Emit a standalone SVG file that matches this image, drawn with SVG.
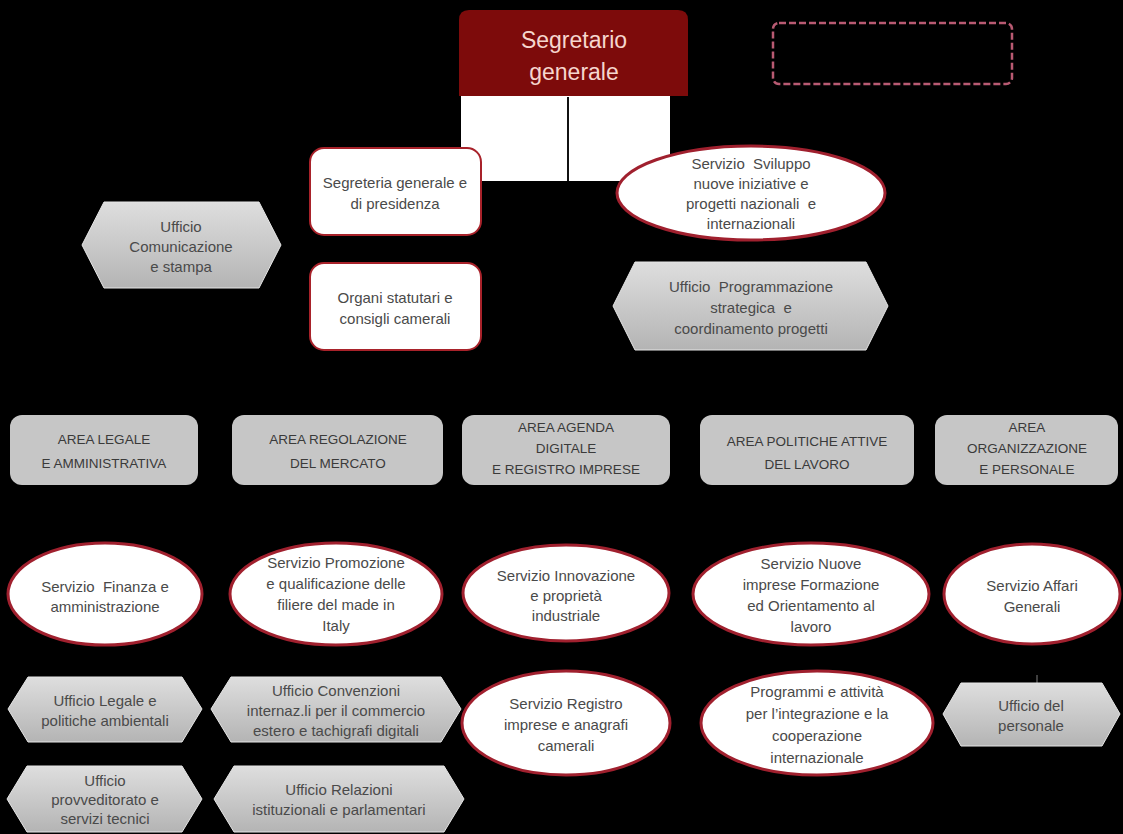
<svg xmlns="http://www.w3.org/2000/svg" width="1123" height="834" viewBox="0 0 1123 834">
<defs>
<linearGradient id="hexg" x1="0" y1="0" x2="0" y2="1">
<stop offset="0" stop-color="#dedede"/>
<stop offset="1" stop-color="#b4b4b4"/>
</linearGradient>
<style>
text{font-family:"Liberation Sans",Arial,sans-serif;text-anchor:middle;dominant-baseline:central;white-space:pre;}
.t{font-size:15px;fill:#4a4a4a;}
.a{font-size:13.5px;fill:#3a3a3a;}
.hex{fill:url(#hexg);stroke:#e6e6e6;stroke-width:1;}
.ell{fill:#ffffff;stroke:#a0202e;stroke-width:3;}
.box{fill:#ffffff;stroke:#a8222a;stroke-width:2;}
.area{fill:#c6c6c6;}
.conn{stroke:#111;stroke-width:2;fill:none;}
</style>
</defs>
<rect x="0" y="0" width="1123" height="834" fill="#000"/>

<rect x="461" y="96" width="209" height="85" fill="#ffffff"/>

<g id="connectors">
<line class="conn" x1="568" y1="97" x2="568" y2="181"/>
<line x1="1037" y1="675" x2="1037" y2="684" stroke="#555" stroke-width="1.5"/>
</g>

<g id="segretario">
<path d="M459,96 L459,20 Q459,10 469,10 L678,10 Q688,10 688,20 L688,96 Z" fill="#7d0b0b"/>
<text x="574" y="40" style="font-size:23px;fill:#f6d6ce">Segretario</text>
<text x="574" y="72" style="font-size:23px;fill:#f6d6ce">generale</text>
</g>

<g id="dashed-box">
<rect x="773" y="23" width="239" height="61" rx="6" fill="none" stroke="#b85a72" stroke-width="2.5" stroke-dasharray="7 3"/>
</g>

<g id="segreteria">
<rect class="box" x="310" y="148" width="171" height="87" rx="14"/>
<text class="t" x="395" y="182">Segreteria generale e</text>
<text class="t" x="395" y="203">di presidenza</text>
</g>

<g id="organi">
<rect class="box" x="310" y="263" width="171" height="87" rx="14"/>
<text class="t" x="395" y="297">Organi statutari e</text>
<text class="t" x="395" y="318">consigli camerali</text>
</g>

<g id="comunicazione">
<polygon class="hex" points="82,245 104,202 259,202 281,245 259,288 104,288"/>
<text class="t" x="181" y="226">Ufficio</text>
<text class="t" x="181" y="246">Comunicazione</text>
<text class="t" x="181" y="266">e stampa</text>
</g>

<g id="sviluppo">
<ellipse class="ell" cx="751" cy="193" rx="134" ry="47"/>
<text class="t" x="751" y="163">Servizio  Sviluppo</text>
<text class="t" x="751" y="183">nuove iniziative e</text>
<text class="t" x="751" y="203">progetti nazionali  e</text>
<text class="t" x="751" y="223">internazionali</text>
</g>

<g id="programmazione">
<polygon class="hex" points="613,306 635,262 866,262 888,306 866,350 635,350"/>
<text class="t" x="751" y="286">Ufficio  Programmazione</text>
<text class="t" x="751" y="307">strategica  e</text>
<text class="t" x="751" y="328">coordinamento progetti</text>
</g>

<g id="area-legale">
<rect class="area" x="10" y="415" width="188" height="70" rx="12"/>
<text class="a" x="104" y="439">AREA LEGALE</text>
<text class="a" x="104" y="463">E AMMINISTRATIVA</text>
</g>
<g id="area-regolazione">
<rect class="area" x="232" y="415" width="211" height="70" rx="12"/>
<text class="a" x="338" y="439">AREA REGOLAZIONE</text>
<text class="a" x="338" y="463">DEL MERCATO</text>
</g>
<g id="area-agenda">
<rect class="area" x="462" y="415" width="208" height="70" rx="12"/>
<text class="a" x="566" y="427">AREA AGENDA</text>
<text class="a" x="566" y="448">DIGITALE</text>
<text class="a" x="566" y="469">E REGISTRO IMPRESE</text>
</g>
<g id="area-politiche">
<rect class="area" x="700" y="415" width="214" height="70" rx="12"/>
<text class="a" x="807" y="441">AREA POLITICHE ATTIVE</text>
<text class="a" x="807" y="464">DEL LAVORO</text>
</g>
<g id="area-organizzazione">
<rect class="area" x="935" y="415" width="183" height="70" rx="12"/>
<text class="a" x="1027" y="427">AREA</text>
<text class="a" x="1027" y="448">ORGANIZZAZIONE</text>
<text class="a" x="1027" y="469">E PERSONALE</text>
</g>

<g id="finanza">
<ellipse class="ell" cx="105" cy="594" rx="97" ry="51"/>
<text class="t" x="105" y="586">Servizio  Finanza e</text>
<text class="t" x="105" y="606">amministrazione</text>
</g>
<g id="promozione">
<ellipse class="ell" cx="336" cy="594" rx="106" ry="51"/>
<text class="t" x="336" y="562">Servizio Promozione</text>
<text class="t" x="336" y="583">e qualificazione delle</text>
<text class="t" x="336" y="604">filiere del made in</text>
<text class="t" x="336" y="625">Italy</text>
</g>
<g id="innovazione">
<ellipse class="ell" cx="566" cy="593" rx="103" ry="48"/>
<text class="t" x="566" y="575">Servizio Innovazione</text>
<text class="t" x="566" y="595">e proprietà</text>
<text class="t" x="566" y="615">industriale</text>
</g>
<g id="nuove-imprese">
<ellipse class="ell" cx="811" cy="594" rx="118" ry="51"/>
<text class="t" x="811" y="563">Servizio Nuove</text>
<text class="t" x="811" y="584">imprese Formazione</text>
<text class="t" x="811" y="605">ed Orientamento al</text>
<text class="t" x="811" y="626">lavoro</text>
</g>
<g id="affari-generali">
<ellipse class="ell" cx="1032" cy="594" rx="88" ry="50"/>
<text class="t" x="1032" y="585">Servizio Affari</text>
<text class="t" x="1032" y="606">Generali</text>
</g>

<g id="legale">
<polygon class="hex" points="8,709 28,677 182,677 202,709 182,742 28,742"/>
<text class="t" x="105" y="700">Ufficio Legale e</text>
<text class="t" x="105" y="720">politiche ambientali</text>
</g>
<g id="convenzioni">
<polygon class="hex" points="211,709 231,677 441,677 461,709 441,742 231,742"/>
<text class="t" x="336" y="690">Ufficio Convenzioni</text>
<text class="t" x="336" y="710">internaz.li per il commercio</text>
<text class="t" x="336" y="730">estero e tachigrafi digitali</text>
</g>
<g id="registro">
<ellipse class="ell" cx="566" cy="723" rx="104" ry="52"/>
<text class="t" x="566" y="703">Servizio Registro</text>
<text class="t" x="566" y="724">imprese e anagrafi</text>
<text class="t" x="566" y="745">camerali</text>
</g>
<g id="programmi">
<ellipse class="ell" cx="817" cy="723" rx="116" ry="52"/>
<text class="t" x="817" y="691">Programmi e attività</text>
<text class="t" x="817" y="713">per l’integrazione e la</text>
<text class="t" x="817" y="735">cooperazione</text>
<text class="t" x="817" y="757">internazionale</text>
</g>
<g id="personale">
<polygon class="hex" points="943,714 961,683 1102,683 1120,714 1102,746 961,746"/>
<text class="t" x="1031" y="705">Ufficio del</text>
<text class="t" x="1031" y="725">personale</text>
</g>
<g id="provveditorato">
<polygon class="hex" points="7,799 27,766 182,766 202,799 182,832 27,832"/>
<text class="t" x="105" y="780">Ufficio</text>
<text class="t" x="105" y="799">provveditorato e</text>
<text class="t" x="105" y="818">servizi tecnici</text>
</g>
<g id="relazioni">
<polygon class="hex" points="214,799 234,766 444,766 464,799 444,832 234,832"/>
<text class="t" x="339" y="789">Ufficio Relazioni</text>
<text class="t" x="339" y="809">istituzionali e parlamentari</text>
</g>
</svg>
